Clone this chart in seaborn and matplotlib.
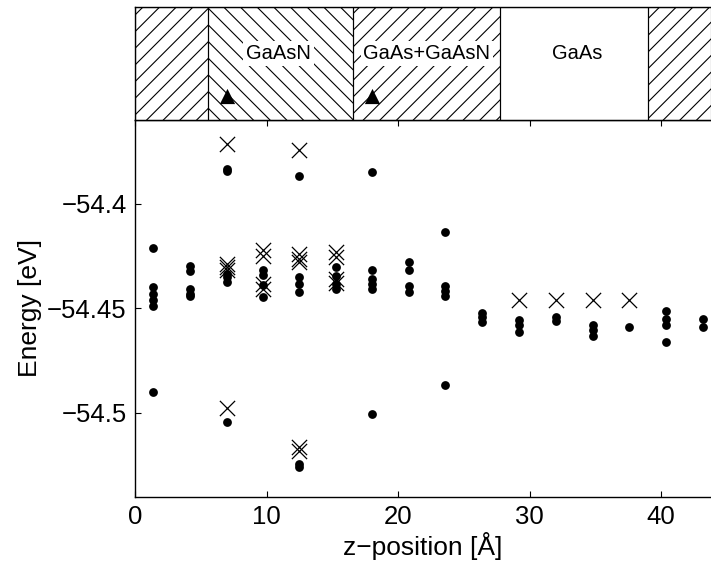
import matplotlib
matplotlib.use("Agg")
import matplotlib.pyplot as plt
import seaborn as sns
import pandas as pd

# ---------------- data ----------------
dot_x = ([1.4] * 6 + [4.2] * 5 + [7.0] * 6 + [9.75] * 4 + [12.5] * 6 + [15.3] * 4
         + [18.0] * 6 + [20.8] * 4 + [23.6] * 5 + [26.4] * 3 + [29.2] * 3 + [32.0] * 2
         + [34.8] * 3 + [37.6] * 1 + [40.4] * 4 + [43.2] * 2)
dot_y = [
    -54.421, -54.440, -54.443, -54.446, -54.449, -54.490,
    -54.430, -54.432, -54.441, -54.443, -54.444,
    -54.3833, -54.3846, -54.4335, -54.4351, -54.4375, -54.5045,
    -54.4316, -54.4343, -54.439, -54.4447,
    -54.3869, -54.4351, -54.4383, -54.4423, -54.5244, -54.526,
    -54.4303, -54.4345, -54.4385, -54.441,
    -54.3849, -54.4316, -54.4359, -54.4383, -54.4407, -54.5005,
    -54.4279, -54.4319, -54.4391, -54.4423,
    -54.4136, -54.4391, -54.4415, -54.4439, -54.4866,
    -54.452, -54.454, -54.4567,
    -54.4555, -54.458, -54.4614,
    -54.454, -54.4559,
    -54.4582, -54.4605, -54.463,
    -54.4587,
    -54.4514, -54.455, -54.4582, -54.4662,
    -54.455, -54.4587,
]
cross_x = ([7.0] * 5 + [9.75] * 4 + [12.5] * 6 + [15.3] * 4
           + [29.2, 32.0, 34.8, 37.6])
cross_y = [
    -54.3717, -54.4287, -54.4303, -54.4319, -54.4978,
    -54.422, -54.4252, -54.4383, -54.4407,
    -54.3745, -54.4239, -54.4263, -54.4279, -54.5165, -54.518,
    -54.4232, -54.4256, -54.436, -54.438,
    -54.4459, -54.4459, -54.4459, -54.4459,
]
region_edges = [0.0, 5.57, 16.58, 27.76, 38.99, 43.8]
region_hatch = ["//", "\\\\", "//", "", "//"]
region_labels = ["GaAsN", "GaAs+GaAsN", "GaAs"]
region_label_x = [10.9, 22.2, 33.6]
triangle_x = [7.0, 18.0]
triangle_y = [0.21, 0.21]
yticks = [-54.5, -54.45, -54.4]
ytick_labels = ["\u221254.5", "\u221254.45", "\u221254.4"]
xticks = [0, 10, 20, 30, 40]

# ---------------- style ----------------
sns.set_style("ticks")
plt.rcParams["font.family"] = ["Liberation Sans", "DejaVu Sans"]
plt.rcParams["hatch.linewidth"] = 0.8
plt.rcParams["axes.linewidth"] = 1.0
for key in ["text.color", "axes.labelcolor", "xtick.color", "ytick.color",
            "axes.edgecolor"]:
    plt.rcParams[key] = "black"

fig = plt.figure(figsize=(7.11, 5.63), dpi=100)
ax = fig.add_axes([0.1899, 0.1178, 0.8101, 0.6691])
band = fig.add_axes([0.1899, 0.7869, 0.8101, 0.2007])

dots = pd.DataFrame({"z": dot_x, "E": dot_y})
crosses = pd.DataFrame({"z": cross_x, "E": cross_y})
sns.scatterplot(data=dots, x="z", y="E", ax=ax, marker="o", s=40,
                color="black", edgecolor="black", linewidth=0, zorder=3)
sns.scatterplot(data=crosses, x="z", y="E", ax=ax, marker="x", s=120,
                color="black", linewidth=0.9, zorder=4)

ax.set_xlim(region_edges[0], region_edges[-1])
ax.set_ylim(-54.54, -54.36)
ax.set_xticks(xticks)
ax.set_xticklabels([str(t) for t in xticks])
ax.set_yticks(yticks)
ax.set_yticklabels(ytick_labels)
ax.tick_params(direction="in", length=4, width=0.8, top=True, right=False,
               labelsize=18.5, colors="black", pad=6)
ax.spines["right"].set_visible(False)
for sp in ["left", "top", "bottom"]:
    ax.spines[sp].set_color("black")
ax.set_xlabel("z\u2212position [\u00c5]", fontsize=19, labelpad=2, color="black")
ax.set_ylabel("Energy [eV]", fontsize=19, labelpad=4, color="black")

# ---------------- top band ----------------
band.set_xlim(region_edges[0], region_edges[-1])
band.set_ylim(0, 1)
for i, h in enumerate(region_hatch):
    band.axvspan(region_edges[i], region_edges[i + 1], ymin=0, ymax=1,
                 facecolor="none", edgecolor="black", hatch=h, linewidth=0.8)
for lab, lx in zip(region_labels, region_label_x):
    band.text(lx, 0.59, lab, ha="center", va="center", fontsize=14.5,
              color="black",
              bbox=dict(facecolor="white", edgecolor="none", pad=2))
tri = pd.DataFrame({"z": triangle_x, "p": triangle_y})
sns.scatterplot(data=tri, x="z", y="p", ax=band, marker="^", s=120,
                color="black", edgecolor="black", linewidth=0, zorder=5)
band.set_xticks([])
band.set_yticks([])
band.set_xlabel("")
band.set_ylabel("")
band.spines["right"].set_visible(False)
for sp in ["left", "top", "bottom"]:
    band.spines[sp].set_color("black")

fig.savefig("out.png", dpi=100)
